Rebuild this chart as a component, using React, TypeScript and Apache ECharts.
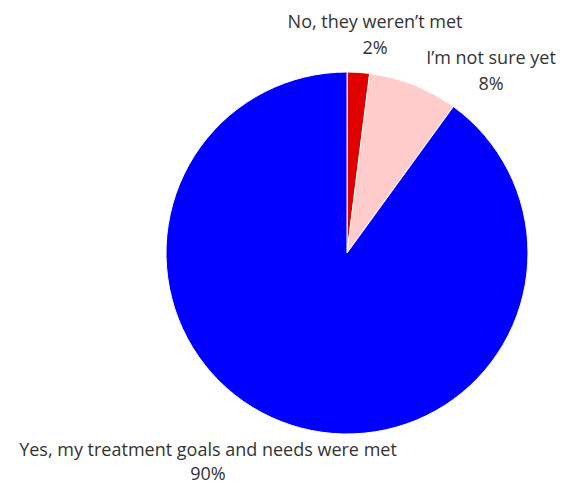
import React, { useEffect, useRef } from "react";
import * as echarts from "echarts";

const categories = ["No, they weren\u2019t met", "I\u2019m not sure yet", "Yes, my treatment goals and needs were met"];
const values = [2, 8, 90];
const colors = ["#e00000", "#ffcccc", "#0000ff"];
const labelPos = [
  [375, 34],
  [491, 70],
  [208, 460],
];

const textStyle = {
  fontFamily: "Open Sans",
  fontSize: 18,
  color: "#333333",
  align: "center",
};

export default function App() {
  const ref = useRef<HTMLDivElement>(null);
  useEffect(() => {
    const chart = echarts.init(ref.current!, null, { renderer: "svg" });
    chart.setOption({
      animation: false,
      backgroundColor: "#ffffff",
      series: [
        {
          type: "pie",
          center: [347, 253],
          radius: [0, 181],
          startAngle: 90,
          clockwise: true,
          avoidLabelOverlap: false,
          data: categories.map((c, i) => ({
            name: c,
            value: values[i],
            itemStyle: { color: colors[i] },
            label: i === 2 ? { formatter: "{t|{b}}\n{s|{c}%}" } : undefined,
          })),
          itemStyle: { borderColor: "#ffffff", borderWidth: 1 },
          label: {
            show: true,
            position: "outside",
            formatter: "{t|{b}}\n{t|{c}%}",
            rich: {
              t: { ...textStyle, lineHeight: 26 },
              s: { ...textStyle, lineHeight: 22 },
            },
            align: "center",
            overflow: "none",
            width: 500,
          },
          labelLine: { show: false },
          labelLayout: (p: any) => ({
            x: labelPos[p.dataIndex][0],
            y: labelPos[p.dataIndex][1],
            align: "center",
            verticalAlign: "middle",
          }),
          emphasis: { disabled: true },
        },
      ],
    });
    return () => chart.dispose();
  }, []);
  return <div ref={ref} style={{ position: "fixed", left: 0, top: 0, width: 563, height: 487 }} />;
}
